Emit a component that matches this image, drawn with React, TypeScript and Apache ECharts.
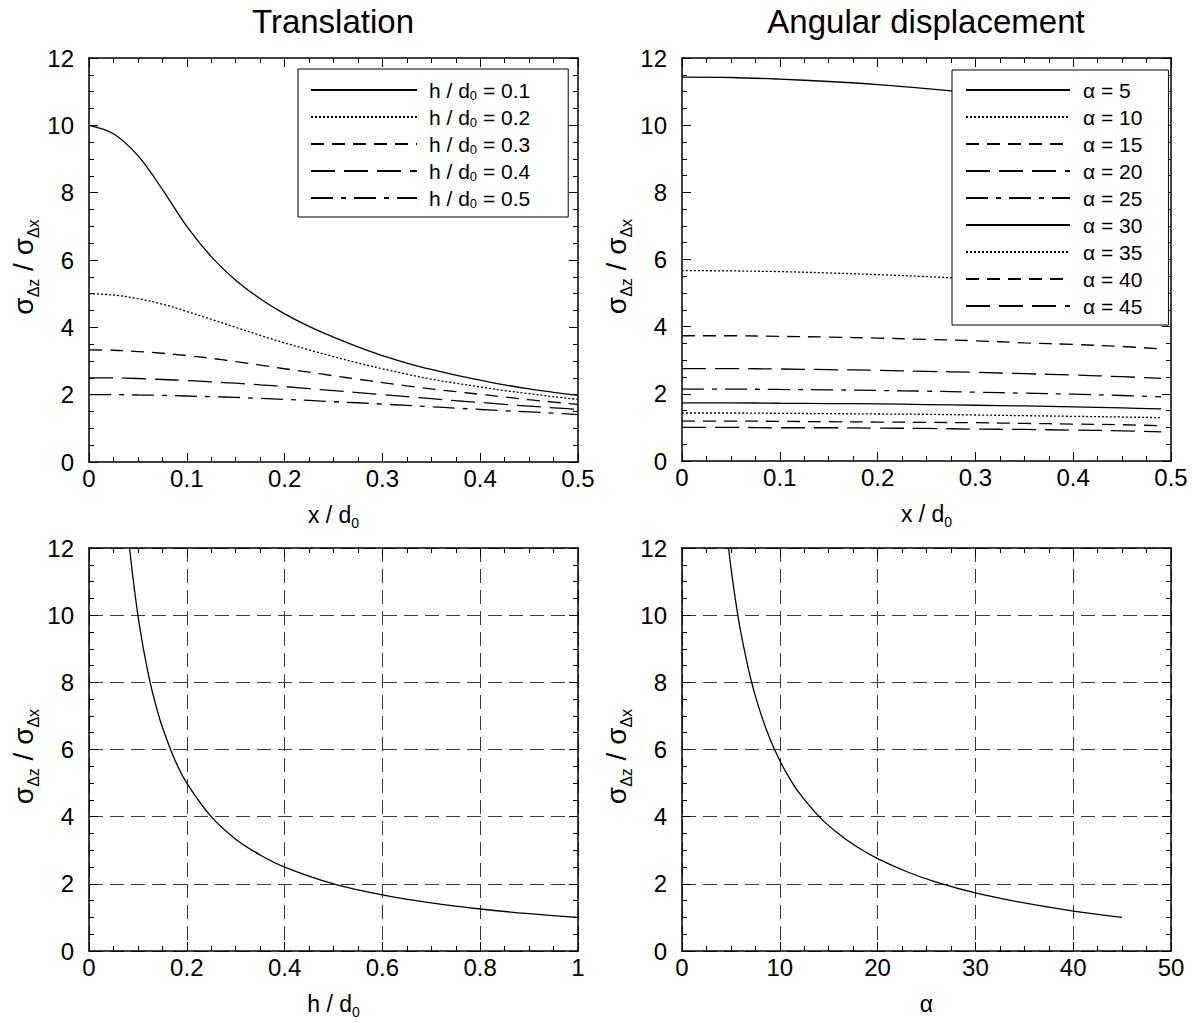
import React, { useEffect, useRef } from 'react';
import * as echarts from 'echarts';

// ---------- data ----------
const transX = [0, 0.025, 0.05, 0.075, 0.1, 0.125, 0.15, 0.175, 0.2, 0.225, 0.25, 0.275, 0.3, 0.325, 0.35, 0.375, 0.4, 0.425, 0.45, 0.475, 0.5];
const transH01 = [10.0, 9.75, 9.1, 8.1, 7.0, 6.1, 5.4, 4.85, 4.4, 4.03, 3.71, 3.42, 3.16, 2.94, 2.75, 2.58, 2.43, 2.29, 2.17, 2.07, 1.98];
const transH02 = [5.0, 4.96, 4.85, 4.69, 4.47, 4.24, 4.0, 3.76, 3.54, 3.33, 3.13, 2.94, 2.77, 2.61, 2.46, 2.34, 2.23, 2.12, 2.03, 1.94, 1.86];
const transH03 = [3.33, 3.32, 3.28, 3.23, 3.16, 3.08, 2.98, 2.88, 2.77, 2.67, 2.56, 2.46, 2.36, 2.26, 2.17, 2.09, 2.01, 1.93, 1.85, 1.78, 1.71];
const transH04 = [2.5, 2.5, 2.48, 2.45, 2.42, 2.38, 2.34, 2.29, 2.24, 2.18, 2.12, 2.06, 2.0, 1.94, 1.88, 1.82, 1.77, 1.71, 1.66, 1.61, 1.56];
const transH05 = [2.0, 2.0, 1.99, 1.98, 1.96, 1.94, 1.92, 1.89, 1.86, 1.83, 1.79, 1.76, 1.72, 1.68, 1.64, 1.6, 1.56, 1.52, 1.49, 1.45, 1.41];
const transNames = ['h / d0 = 0.1', 'h / d0 = 0.2', 'h / d0 = 0.3', 'h / d0 = 0.4', 'h / d0 = 0.5'];

const angX = [0, 0.05, 0.1, 0.15, 0.2, 0.25, 0.3, 0.35, 0.4, 0.45, 0.49];
const ang05 = [11.43, 11.42, 11.37, 11.3, 11.21, 11.09, 10.95, 10.78, 10.6, 10.4, 10.22];
const ang10 = [5.67, 5.66, 5.64, 5.6, 5.55, 5.49, 5.42, 5.35, 5.27, 5.18, 5.1];
const ang15 = [3.73, 3.73, 3.71, 3.69, 3.66, 3.62, 3.58, 3.52, 3.47, 3.41, 3.34];
const ang20 = [2.75, 2.75, 2.74, 2.72, 2.7, 2.67, 2.64, 2.6, 2.56, 2.51, 2.46];
const ang25 = [2.14, 2.14, 2.13, 2.12, 2.1, 2.08, 2.05, 2.02, 1.99, 1.95, 1.91];
const ang30 = [1.73, 1.73, 1.72, 1.71, 1.7, 1.68, 1.66, 1.64, 1.61, 1.58, 1.55];
const ang35 = [1.43, 1.43, 1.42, 1.41, 1.4, 1.39, 1.37, 1.35, 1.33, 1.31, 1.29];
const ang40 = [1.19, 1.19, 1.18, 1.17, 1.16, 1.15, 1.14, 1.12, 1.1, 1.08, 1.05];
const ang45 = [1.0, 1.0, 0.99, 0.99, 0.98, 0.97, 0.95, 0.94, 0.92, 0.9, 0.87];
const angNames = ['α = 5', 'α = 10', 'α = 15', 'α = 20', 'α = 25', 'α = 30', 'α = 35', 'α = 40', 'α = 45'];

const hRatioX = [0.083, 0.09, 0.1, 0.11, 0.125, 0.14, 0.15, 0.175, 0.2, 0.25, 0.3, 0.35, 0.4, 0.5, 0.6, 0.7, 0.8, 0.9, 1.0];
const hRatioY = [12, 11.1, 10, 9.1, 8, 7.14, 6.67, 5.71, 5, 4, 3.33, 2.86, 2.5, 2, 1.67, 1.43, 1.25, 1.11, 1.0];

const alphaX = [4.76, 5, 5.5, 6, 7, 8, 9, 10, 11, 12, 14, 16, 18, 20, 23, 26, 30, 35, 40, 45];
const alphaY = [12, 11.43, 10.39, 9.51, 8.14, 7.12, 6.31, 5.67, 5.14, 4.7, 4.01, 3.49, 3.08, 2.75, 2.36, 2.05, 1.73, 1.43, 1.19, 1.0];

// ---------- styling ----------
const FONT = 'Liberation Sans, Arial, Helvetica, sans-serif';
const dashStyles: any[] = ['solid', [2, 2], [13, 8], [24, 9], [22, 8, 5, 8]];
const angDash: any[] = ['solid', [2, 2], [13, 8], [24, 9], [22, 8, 5, 8], 'solid', [2, 2], [13, 8], [24, 9]];

const grids = [
  { left: 89, top: 58, width: 489, height: 404 },
  { left: 682, top: 58, width: 489, height: 403 },
  { left: 89, top: 548, width: 489, height: 403 },
  { left: 682, top: 548, width: 489, height: 403 },
];

const gridDash = { show: true, lineStyle: { type: [14, 7], color: '#3a3a3a', width: 1 } };

function commonAxis(gridIndex: number, min: number, max: number, interval: number) {
  return {
    type: 'value',
    gridIndex,
    min,
    max,
    interval,
    axisLine: { show: true, onZero: false, lineStyle: { color: '#000', width: 1.5 } },
    axisTick: { show: true, inside: true, length: 9, lineStyle: { color: '#000', width: 1 } },
    minorTick: { show: true, splitNumber: 4, length: 5, lineStyle: { color: '#000', width: 1 } },
    minorSplitLine: { show: false },
  };
}

const subRich = (fs: number, lh: number) => ({
  s: { fontSize: fs, lineHeight: lh, verticalAlign: 'bottom', fontFamily: FONT, color: '#000' },
});

function xAxesFor(gridIndex: number, min: number, max: number, interval: number, name: string, grid: boolean) {
  const c = commonAxis(gridIndex, min, max, interval);
  return [
    {
      ...c,
      position: 'bottom',
      axisLabel: { show: true, fontSize: 24, color: '#000', fontFamily: FONT, margin: 4 },
      splitLine: grid ? gridDash : { show: false },
      name,
      nameLocation: 'middle',
      nameGap: 38,
      nameTextStyle: { fontSize: 23, lineHeight: 30, color: '#000', fontFamily: FONT, rich: subRich(14, 30) },
    },
    { ...c, position: 'top', axisLabel: { show: false }, splitLine: { show: false } },
  ];
}

function yAxesFor(gridIndex: number, grid: boolean) {
  const c = commonAxis(gridIndex, 0, 12, 2);
  return [
    {
      ...c,
      position: 'left',
      axisLabel: { show: true, fontSize: 24, color: '#000', fontFamily: FONT, margin: 15 },
      splitLine: grid ? gridDash : { show: false },
      name: 'σ{s|Δz} / σ{s|Δx}',
      nameLocation: 'middle',
      nameRotate: 90,
      nameGap: 48,
      nameTextStyle: {
        fontSize: 28,
        lineHeight: 36,
        color: '#000',
        fontFamily: FONT,
        padding: [0, 14, 0, 0],
        rich: subRich(16, 36),
      },
    },
    { ...c, position: 'right', axisLabel: { show: false }, splitLine: { show: false } },
  ];
}

function lineSeries(name: string, xs: number[], ys: number[], xi: number, yi: number, type: any) {
  return {
    type: 'line',
    name,
    xAxisIndex: xi,
    yAxisIndex: yi,
    data: xs.map((x, i) => [x, ys[i]]),
    symbol: 'none',
    smooth: 0.35,
    lineStyle: { color: '#000', width: 1.3, type },
    itemStyle: { color: '#000' },
    clip: true,
    z: 2,
  };
}

export default function App() {
  const ref = useRef<HTMLDivElement>(null);
  useEffect(() => {
    if (!ref.current) return;
    const chart = echarts.init(ref.current, undefined, { renderer: 'svg' });
    const transSeriesData = [transH01, transH02, transH03, transH04, transH05];
    const angSeriesData = [ang05, ang10, ang15, ang20, ang25, ang30, ang35, ang40, ang45];
    const series: any[] = [];
    transSeriesData.forEach((ys, i) => series.push(lineSeries(transNames[i], transX, ys, 0, 0, dashStyles[i])));
    angSeriesData.forEach((ys, i) => series.push(lineSeries(angNames[i], angX, ys, 2, 2, angDash[i])));
    series.push(lineSeries('h ratio', hRatioX, hRatioY, 4, 4, 'solid'));
    series.push(lineSeries('alpha ratio', alphaX, alphaY, 6, 6, 'solid'));

    const legendCommon = {
      orient: 'vertical',
      itemHeight: 14,
      itemGap: 3,
      backgroundColor: '#fff',
      borderColor: '#000',
      borderWidth: 1,
      borderRadius: 0,
      selectedMode: false,
      itemStyle: { opacity: 0 },
      z: 10,
    };

    const option: any = {
      animation: false,
      backgroundColor: '#fff',
      title: [
        { text: 'Translation', left: 333, top: 5, textAlign: 'center', padding: 0,
          textStyle: { fontSize: 33, fontWeight: 'normal', color: '#000', fontFamily: FONT } },
        { text: 'Angular displacement', left: 926, top: 5, textAlign: 'center', padding: 0,
          textStyle: { fontSize: 33, fontWeight: 'normal', color: '#000', fontFamily: FONT } },
      ],
      grid: grids.map((g) => ({ ...g, containLabel: false })),
      xAxis: [
        ...xAxesFor(0, 0, 0.5, 0.1, 'x / d{s|0}', false),
        ...xAxesFor(1, 0, 0.5, 0.1, 'x / d{s|0}', false),
        ...xAxesFor(2, 0, 1, 0.2, 'h / d{s|0}', true),
        ...xAxesFor(3, 0, 50, 10, 'α', true),
      ],
      yAxis: [...yAxesFor(0, false), ...yAxesFor(1, false), ...yAxesFor(2, true), ...yAxesFor(3, true)],
      legend: [
        {
          ...legendCommon,
          data: transNames,
          left: 298,
          top: 69,
          itemWidth: 106,
          padding: [9, 38, 7, 12],
          formatter: (n: string) => n.replace('d0', 'd{s|0}'),
          textStyle: {
            fontSize: 21, lineHeight: 24, color: '#000', fontFamily: FONT,
            padding: [0, 0, 0, 7], rich: subRich(13, 24),
          },
        },
        {
          ...legendCommon,
          data: angNames,
          left: 952,
          top: 70,
          itemWidth: 104,
          padding: [8, 26, 7, 13],
          textStyle: {
            fontSize: 21, lineHeight: 24, color: '#000', fontFamily: FONT,
            padding: [0, 0, 0, 8], rich: subRich(13, 24),
          },
        },
      ],
      series,
    };
    chart.setOption(option);
    return () => chart.dispose();
  }, []);
  return (
    <div
      ref={ref}
      style={{ position: 'absolute', left: 0, top: 0, width: 1197, height: 1022, background: '#fff' }}
    />
  );
}
